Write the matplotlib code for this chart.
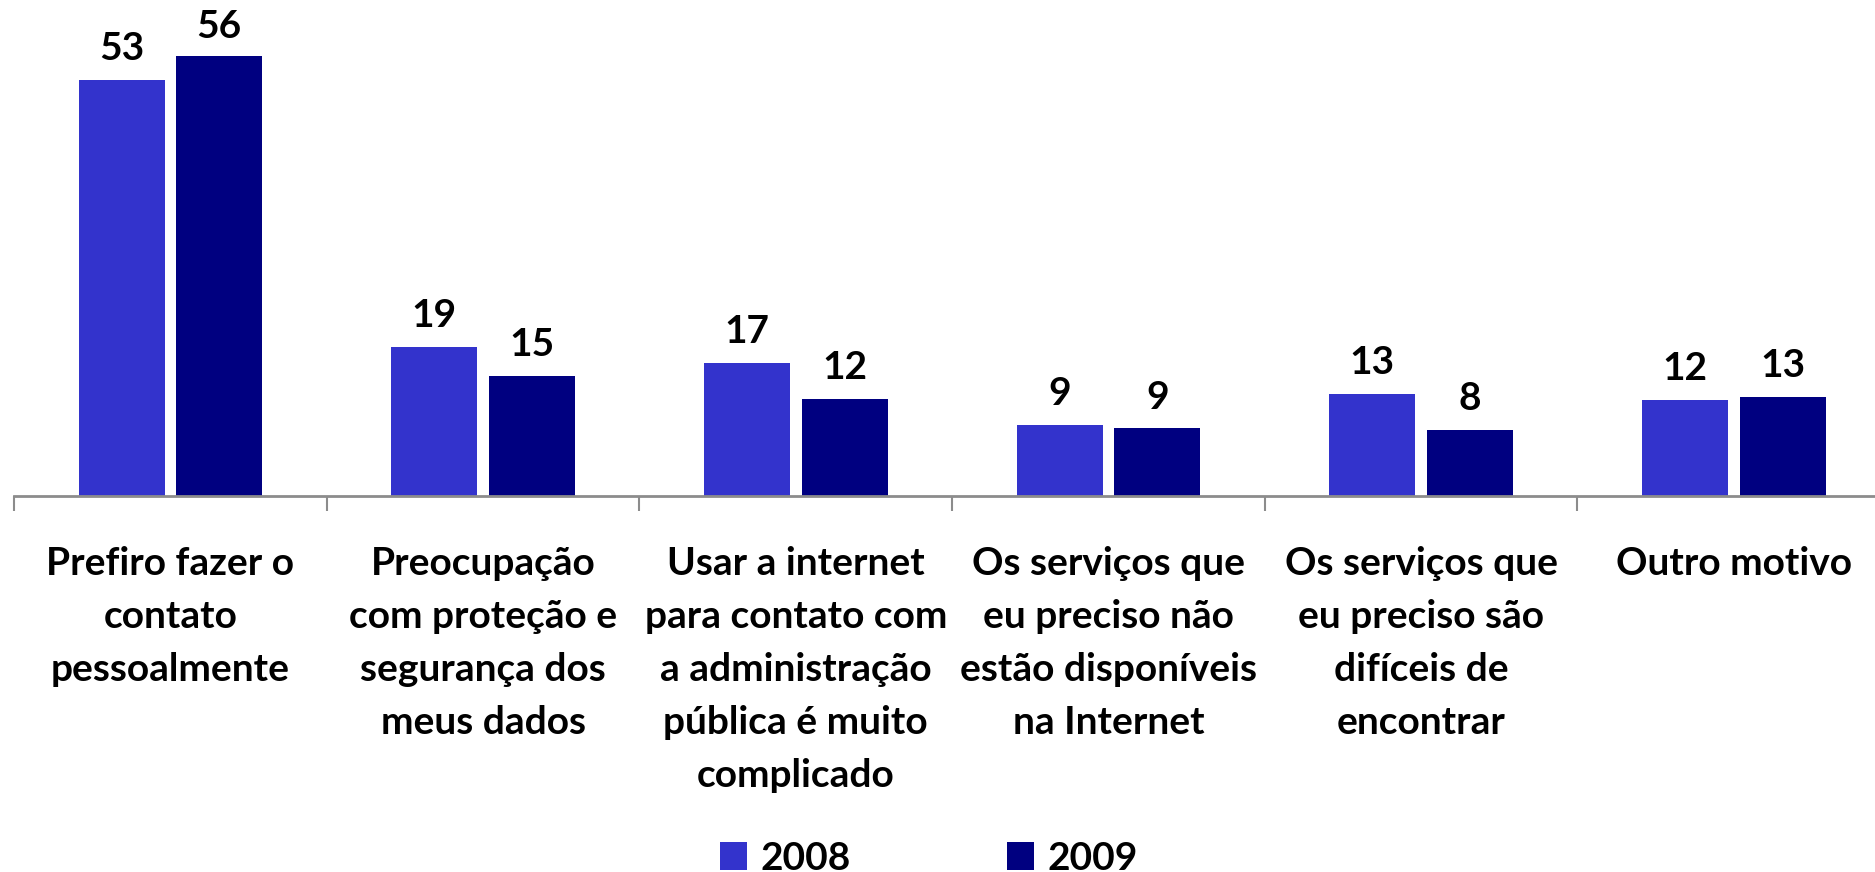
import numpy as np
import matplotlib.pyplot as plt

plt.rcParams['font.family'] = ['Lato', 'DejaVu Sans']

categorias = [
    'Prefiro fazer o\ncontato\npessoalmente',
    'Preocupação\ncom proteção e\nsegurança dos\nmeus dados',
    'Usar a internet\npara contato com\na administração\npública é muito\ncomplicado',
    'Os serviços que\neu preciso não\nestão disponíveis\nna Internet',
    'Os serviços que\neu preciso são\ndifíceis de\nencontrar',
    'Outro motivo',
]
anos = ['2008', '2009']
v2008 = [53, 19, 17, 9, 13, 12.2]
v2009 = [56, 15.3, 12.4, 8.6, 8.4, 12.6]
cores = ['#3333CC', '#000080']

fig = plt.figure(figsize=(18.75, 8.72), dpi=100)
# eixo passa um pouco da borda direita, como no original
ax = fig.add_axes([14 / 1875, 1 - 496 / 872, 6 * 312.7 / 1875, 471 / 872])

x = np.arange(len(categorias))
w = 0.275
off = 0.156
ymax = 60
ax.set_xlim(-0.5, len(categorias) - 0.5)
ax.set_ylim(0, ymax)

barras = []
for vals, cor, sinal, ano in zip([v2008, v2009], cores, [-1, 1], anos):
    b = ax.bar(x + sinal * off, vals, width=w, color=cor, label=ano)
    barras.append(b)
    for xi, v in zip(x + sinal * off, vals):
        # rótulo não passa do topo da área do gráfico (como no Excel)
        folga = (ymax - v) / ymax * 471 * 0.72  # em pontos
        dy = min(10, folga - 14)
        ax.annotate(f'{round(v):d}', (xi, v), xytext=(0, dy), textcoords='offset points',
                    ha='center', va='bottom', fontsize=28, fontweight='bold')

for s in ['top', 'right', 'left']:
    ax.spines[s].set_visible(False)
ax.spines['bottom'].set_color('#8c8c8c')
ax.spines['bottom'].set_linewidth(2)
ax.set_yticks([])

ax.set_xticks(x)
ax.set_xticklabels(categorias, fontsize=28, fontweight='bold', linespacing=1.62)
ax.tick_params(axis='x', which='major', length=0, pad=36)
ax.set_xticks(np.arange(len(categorias) + 1) - 0.5, minor=True)
ax.tick_params(axis='x', which='minor', length=11, width=1.5, color='#8c8c8c', direction='out')

fig.legend(handles=barras, labels=anos, loc='center', bbox_to_anchor=(0.4955, 1 - 858 / 872),
           ncol=2, frameon=False, handlelength=0.7, handleheight=0.7,
           handletextpad=0.35, columnspacing=4.0,
           prop={'weight': 'bold', 'size': 28})

fig.savefig('out.png', dpi=100)
